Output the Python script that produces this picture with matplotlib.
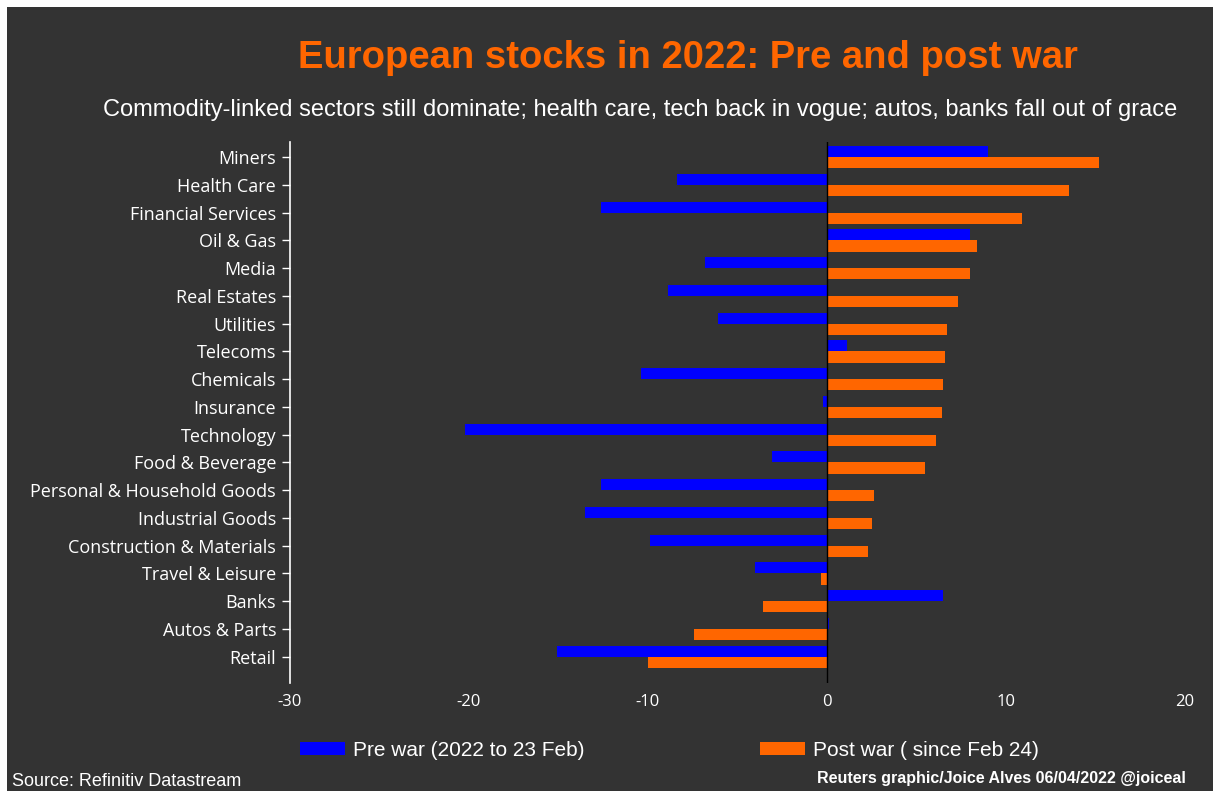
import numpy as np
import matplotlib.pyplot as plt
from matplotlib.patches import Rectangle

sectors = ["Miners", "Health Care", "Financial Services", "Oil & Gas", "Media",
           "Real Estates", "Utilities", "Telecoms", "Chemicals", "Insurance",
           "Technology", "Food & Beverage", "Personal & Household Goods",
           "Industrial Goods", "Construction & Materials", "Travel & Leisure",
           "Banks", "Autos & Parts", "Retail"]
pre_war = [9.0, -8.4, -12.6, 8.0, -6.8, -8.9, -6.1, 1.1, -10.4, -0.25,
           -20.2, -3.1, -12.6, -13.5, -9.9, -4.0, 6.5, 0.1, -15.1]
post_war = [15.2, 13.5, 10.9, 8.4, 8.0, 7.3, 6.7, 6.6, 6.5, 6.4,
            6.1, 5.5, 2.6, 2.5, 2.3, -0.35, -3.6, -7.45, -10.0]
xticks = [-30, -20, -10, 0, 10, 20]

bg = "#333333"
blue = "#0000ff"
orange = "#ff6600"

fig = plt.figure(figsize=(12.13, 7.91), dpi=100, facecolor="white")
fig.patches.append(Rectangle((7 / 1213, 0), 1, 1 - 7 / 791, transform=fig.transFigure,
                             facecolor=bg, edgecolor="none", zorder=-10))

ax = fig.add_axes([290 / 1213, 1 - 683 / 791, (1185 - 290) / 1213, (683 - 142) / 791])
ax.set_facecolor(bg)

y = np.arange(len(sectors))
h = 0.4
ax.barh(y - h / 2, pre_war, height=h, color=blue, label="Pre war (2022 to 23 Feb)")
ax.barh(y + h / 2, post_war, height=h, color=orange, label="Post war ( since Feb 24)")
ax.axvline(0, color="black", lw=1)

ax.set_xlim(-30, 20)
ax.set_ylim(len(sectors) - 0.05, -0.55)
ax.set_yticks(y)
ax.set_yticklabels(sectors, fontsize=13, color="white", family="Open Sans")
ax.set_xticks(xticks)
ax.set_xticklabels([str(t) for t in xticks], fontsize=12, color="white", family="Open Sans")
ax.tick_params(axis="x", length=0, pad=8)
ax.tick_params(axis="y", length=6, color="white", width=1, pad=4)
for s in ["top", "right", "bottom"]:
    ax.spines[s].set_visible(False)
ax.spines["left"].set_color("white")
ax.spines["left"].set_linewidth(1.2)

fig.text(688 / 1213, 1 - 58 / 791, "European stocks in 2022: Pre and post war",
         ha="center", va="center", fontsize=27.5, fontweight="bold", color=orange,
         family="Liberation Sans")
fig.text(640 / 1213, 1 - 110 / 791,
         "Commodity-linked sectors still dominate; health care, tech back in vogue; autos, banks fall out of grace",
         ha="center", va="center", fontsize=17, color="white", family="Liberation Sans")

leg = fig.legend(loc="center left", bbox_to_anchor=(290 / 1213, 1 - 750 / 791), ncol=2,
                 frameon=False, borderpad=0, handlelength=2.16, handleheight=0.6,
                 handletextpad=0.35, columnspacing=8.45,
                 prop={"family": "Liberation Sans", "size": 15})
for t in leg.get_texts():
    t.set_color("white")

fig.text(12 / 1213, 1 - 782 / 791, "Source: Refinitiv Datastream", ha="left", va="center",
         fontsize=13, color="white", family="Liberation Sans")
fig.text(1186 / 1213, 1 - 778 / 791, "Reuters graphic/Joice Alves 06/04/2022 @joiceal",
         ha="right", va="center", fontsize=11.5, color="white", fontweight="bold",
         family="Liberation Sans")

fig.savefig("out.png", dpi=100, facecolor=fig.get_facecolor())
